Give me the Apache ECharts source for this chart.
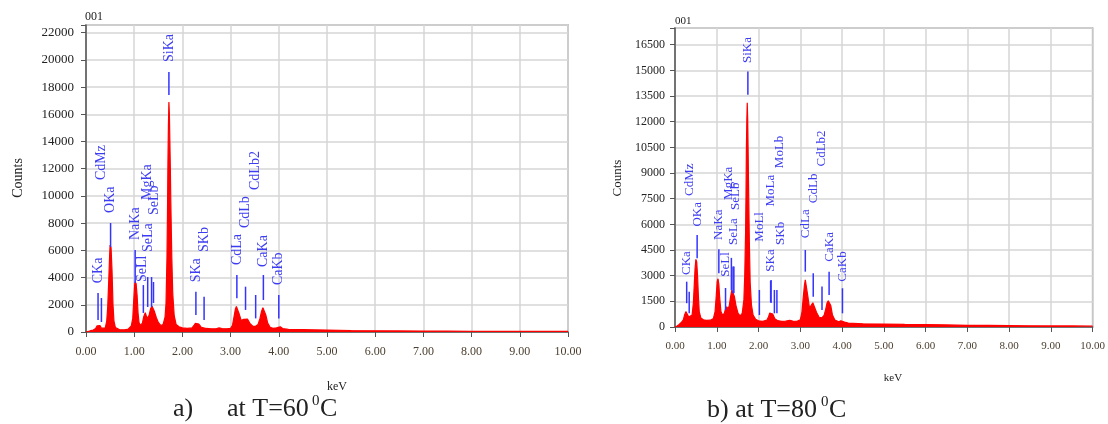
<!DOCTYPE html>
<html><head><meta charset="utf-8">
<script src="https://cdn.jsdelivr.net/npm/echarts@6/dist/echarts.min.js"></script>
<style>html,body{margin:0;padding:0;background:#fff}#c{width:1108px;height:424px}</style>
</head><body><div id="c"></div><script>
// ---------- DATA ----------
// (a) T = 60 C spectrum: [keV, counts]
const spectrumA = [[0,0],[0.05,40],[0.1,100],[0.15,150],[0.2,260],[0.23,450],[0.26,580],[0.29,480],[0.32,280],[0.36,210],[0.40,300],[0.43,800],[0.45,1800],[0.47,3600],[0.49,5600],[0.50,6400],[0.52,6200],[0.54,4500],[0.56,2000],[0.58,800],[0.61,330],[0.65,200],[0.70,160],[0.80,160],[0.88,220],[0.94,450],[0.97,1000],[0.99,2300],[1.01,3500],[1.02,3700],[1.04,3550],[1.06,2700],[1.08,1400],[1.10,700],[1.13,480],[1.17,650],[1.20,1150],[1.23,1420],[1.25,1200],[1.28,1000],[1.31,1250],[1.34,1700],[1.37,1900],[1.39,1850],[1.42,1500],[1.46,1050],[1.50,700],[1.55,480],[1.60,550],[1.64,1100],[1.66,2100],[1.68,5500],[1.69,8500],[1.70,12500],[1.71,15200],[1.72,16900],[1.73,16000],[1.74,14000],[1.75,12000],[1.76,9500],[1.78,5500],[1.80,2800],[1.83,1200],[1.87,550],[1.93,380],[2.00,300],[2.10,260],[2.20,300],[2.24,480],[2.27,640],[2.30,680],[2.34,580],[2.39,350],[2.50,260],[2.60,230],[2.70,240],[2.76,300],[2.82,250],[2.92,230],[3.00,270],[3.04,500],[3.07,1100],[3.10,1700],[3.12,1880],[3.15,1800],[3.18,1300],[3.22,850],[3.27,930],[3.31,1030],[3.35,950],[3.40,640],[3.46,420],[3.52,420],[3.57,560],[3.61,1000],[3.64,1500],[3.67,1780],[3.70,1700],[3.73,1250],[3.77,650],[3.82,350],[3.88,270],[3.95,300],[3.99,410],[4.03,380],[4.08,250],[4.20,190],[4.50,170],[5.00,140],[5.50,110],[6.00,90],[6.50,80],[7.00,70],[7.50,60],[8.00,55],[8.50,50],[9.00,45],[9.50,40],[10.00,40]];
// (b) T = 80 C spectrum: [keV, counts]
const spectrumB = [[0,0],[0.05,60],[0.1,150],[0.15,260],[0.2,420],[0.23,700],[0.26,900],[0.29,820],[0.33,580],[0.37,500],[0.41,700],[0.44,1400],[0.46,2400],[0.48,3400],[0.50,3950],[0.52,3800],[0.54,3000],[0.56,1800],[0.58,900],[0.62,520],[0.68,420],[0.75,390],[0.85,400],[0.92,500],[0.96,900],[0.99,1900],[1.01,2650],[1.03,2820],[1.05,2500],[1.07,1700],[1.10,900],[1.14,680],[1.18,800],[1.21,1050],[1.24,1180],[1.27,1050],[1.30,1250],[1.33,1750],[1.36,2150],[1.39,2200],[1.42,1800],[1.46,1250],[1.51,800],[1.56,650],[1.61,800],[1.65,1600],[1.67,3000],[1.69,5500],[1.70,7700],[1.71,10500],[1.72,12100],[1.73,13100],[1.74,12200],[1.75,10500],[1.76,8500],[1.78,5000],[1.80,2600],[1.83,1300],[1.87,700],[1.93,450],[2.00,360],[2.10,330],[2.20,400],[2.24,600],[2.27,820],[2.30,900],[2.34,760],[2.39,480],[2.46,370],[2.55,330],[2.65,340],[2.75,390],[2.82,350],[2.92,330],[3.00,420],[3.04,850],[3.07,1700],[3.10,2450],[3.12,2750],[3.15,2650],[3.18,1800],[3.22,1100],[3.26,1200],[3.30,1420],[3.34,1350],[3.39,850],[3.45,570],[3.52,540],[3.57,680],[3.61,1050],[3.64,1400],[3.67,1540],[3.70,1520],[3.73,1250],[3.77,700],[3.83,400],[3.92,310],[3.97,360],[4.01,370],[4.06,290],[4.15,230],[4.50,190],[5.00,170],[5.50,150],[6.00,140],[6.50,120],[7.00,100],[7.50,90],[8.00,80],[8.50,70],[9.00,65],[9.50,60],[10.00,55]];

// peak identification markers (a)
const markerNamesA  = ['CKa','CdMz','OKa','NaKa','SeLl','MgKa','SeLa','SeLb','SiKa','SKa','SKb','CdLa','CdLb','CdLb2','CaKa','CaKb'];
const markerEnergyA = [0.25,0.32,0.51,1.02,1.19,1.28,1.36,1.40,1.72,2.28,2.45,3.13,3.31,3.52,3.68,4.00];
// peak identification markers (b)
const markerNamesB  = ['CKa','CdMz','OKa','NaKa','SeLl','MgKa','SeLa','SeLb','SiKa','MoLl','SKa','MoLa','SKb','MoLb','CdLa','CdLb','CdLb2','CaKa','CaKb'];
const markerEnergyB = [0.28,0.34,0.53,1.05,1.21,1.35,1.39,1.41,1.745,2.02,2.30,2.29,2.44,2.38,3.12,3.31,3.52,3.69,4.01];

const xTicks = [0,1,2,3,4,5,6,7,8,9,10];
const captionA = ['a)', 'at T=60 ', '0', 'C'];
const captionB = ['b) at T=80 ', '0', 'C'];

// ---------- LAYOUT of annotations (line span in counts, label anchor) ----------
const layoutA = {
  lo:  [880,735,6250,3600,1400,1840,1840,2130,17420,1250,880,2480,1620,1000,2350,1000],
  hi:  [2870,2500,8010,6030,3450,4040,4040,3675,19110,2960,2590,4190,3330,2720,4190,2720],
  lx:  [0.255,0.325,0.51,1.02,1.17,1.27,1.30,1.42,1.72,2.28,2.45,3.13,3.31,3.52,3.68,4.00],
  ly:  [3580,11170,8750,6760,3675,9700,5880,8600,19850,3650,5880,4920,7640,10440,4780,3450]
};
const layoutB = {
  lo:  [1390,800,4020,3140,1000,2165,1970,1970,13570,700,1400,1450,800,800,3235,1770,995,1870,800],
  hi:  [2650,2065,5380,4545,2280,4040,3530,3530,14935,2165,2750,2700,2165,2165,4500,3140,2360,3235,2265],
  lx:  [0.28,0.34,0.53,1.05,1.22,1.29,1.40,1.44,1.745,2.02,2.30,2.30,2.52,2.50,3.12,3.33,3.52,3.69,4.02],
  ly:  [3040,7660,5870,5090,2940,7430,4800,6845,15430,4990,3235,7040,4800,9285,5190,7240,9380,3820,2650]
};

// ---------- CHART ----------
const SERIF = '"Liberation Serif","Times New Roman",serif';
const chart = echarts.init(document.getElementById('c'), null, {renderer:'canvas'});

function xAxisCfg(gi, fs, margin){
  return {gridIndex:gi, type:'value', min:0, max:10, interval:1,
    axisLine:{show:true, onZero:false, lineStyle:{color:'#555', width:1.5}},
    axisTick:{show:true, length:5, lineStyle:{color:'#555', width:1}},
    axisLabel:{margin:margin, color:'#4d4030', fontFamily:SERIF, fontSize:fs,
      formatter:v => xTicks.indexOf(v) >= 0 ? v.toFixed(2) : ''},
    splitLine:{show:true, lineStyle:{color:'#d6d6d6', width:1.5}}};
}
function yAxisCfg(gi, max, step, fs, margin){
  return {gridIndex:gi, type:'value', min:0, max:max, interval:step,
    axisLine:{show:true, onZero:false, lineStyle:{color:'#555', width:1.5}},
    axisTick:{show:true, length:5, lineStyle:{color:'#555', width:1}},
    axisLabel:{margin:margin, color:'#222', fontFamily:SERIF, fontSize:fs,
      formatter:v => (v % step === 0 ? String(v) : '')},
    splitLine:{show:true, lineStyle:{color:'#d6d6d6', width:1.5}}};
}
function markerSeries(gi, names, energy, lay, fs){
  return {type:'custom', xAxisIndex:gi, yAxisIndex:gi, z:5, clip:false,
    data: names.map((n,i)=>[energy[i], lay.lo[i], lay.hi[i], lay.lx[i], lay.ly[i]]),
    encode:{x:0, y:1},
    renderItem:(params, api)=>{
      const i = params.dataIndex;
      const p0 = api.coord([api.value(0), api.value(1)]);
      const p1 = api.coord([api.value(0), api.value(2)]);
      const pl = api.coord([api.value(3), api.value(4)]);
      return {type:'group', children:[
        {type:'line', shape:{x1:p0[0], y1:p0[1], x2:p1[0], y2:p1[1]},
         style:{stroke:'#3434ff', lineWidth:1.5}},
        {type:'text', x:pl[0], y:pl[1], rotation:Math.PI/2,
         style:{text:names[i], fill:'#3c3cf2', font:fs+'px '+SERIF, align:'left', verticalAlign:'middle'}}
      ]};
    }};
}
function spectrumSeries(gi, data){
  return {type:'line', xAxisIndex:gi, yAxisIndex:gi, data:data, showSymbol:false, symbol:'none',
    sampling:null, animation:false, lineStyle:{color:'#ff0000', width:1.2}, areaStyle:{color:'#ff0000', opacity:1}, z:3};
}

const txt = (x,y,text,size,opts={}) => Object.assign({type:'text', x:x, y:y,
  style:{text:text, font:size+'px '+SERIF, fill:opts.fill||'#222', align:opts.align||'left', verticalAlign:opts.va||'middle'}}, opts.rot?{rotation:opts.rot}:{});

chart.setOption({
  animation:false,
  backgroundColor:'#fff',
  grid:[
    {left:86, top:25, width:482, height:307, show:true, borderColor:'#9a9a9a', borderWidth:1.5, backgroundColor:'transparent'},
    {left:675, top:28, width:419, height:299, show:true, borderColor:'#9a9a9a', borderWidth:1.5, backgroundColor:'transparent'}
  ],
  xAxis:[xAxisCfg(0, 12, 14), xAxisCfg(1, 11, 14)],
  yAxis:[yAxisCfg(0, 22566, 2000, 13, 12), yAxisCfg(1, 17477, 1500, 12, 10)],
  series:[
    spectrumSeries(0, spectrumA),
    spectrumSeries(1, spectrumB),
    markerSeries(0, markerNamesA, markerEnergyA, layoutA, 14),
    markerSeries(1, markerNamesB, markerEnergyB, layoutB, 13)
  ],
  graphic:[
    txt(85, 17, '001', 12),
    txt(675, 21, '001', 11),
    txt(18, 178, 'Counts', 14, {rot:Math.PI/2, align:'center'}),
    txt(618, 178, 'Counts', 13, {rot:Math.PI/2, align:'center'}),
    txt(337, 387, 'keV', 12, {align:'center'}),
    txt(893, 378, 'keV', 11, {align:'center'}),
    txt(173, 409, captionA[0], 26),
    txt(227, 409, captionA[1], 26),
    txt(312, 401, captionA[2], 15),
    txt(320, 409, captionA[3], 26),
    txt(707, 410, captionB[0], 26),
    txt(821, 402, captionB[1], 15),
    txt(829, 410, captionB[2], 26)
  ]
});
</script></body></html>
